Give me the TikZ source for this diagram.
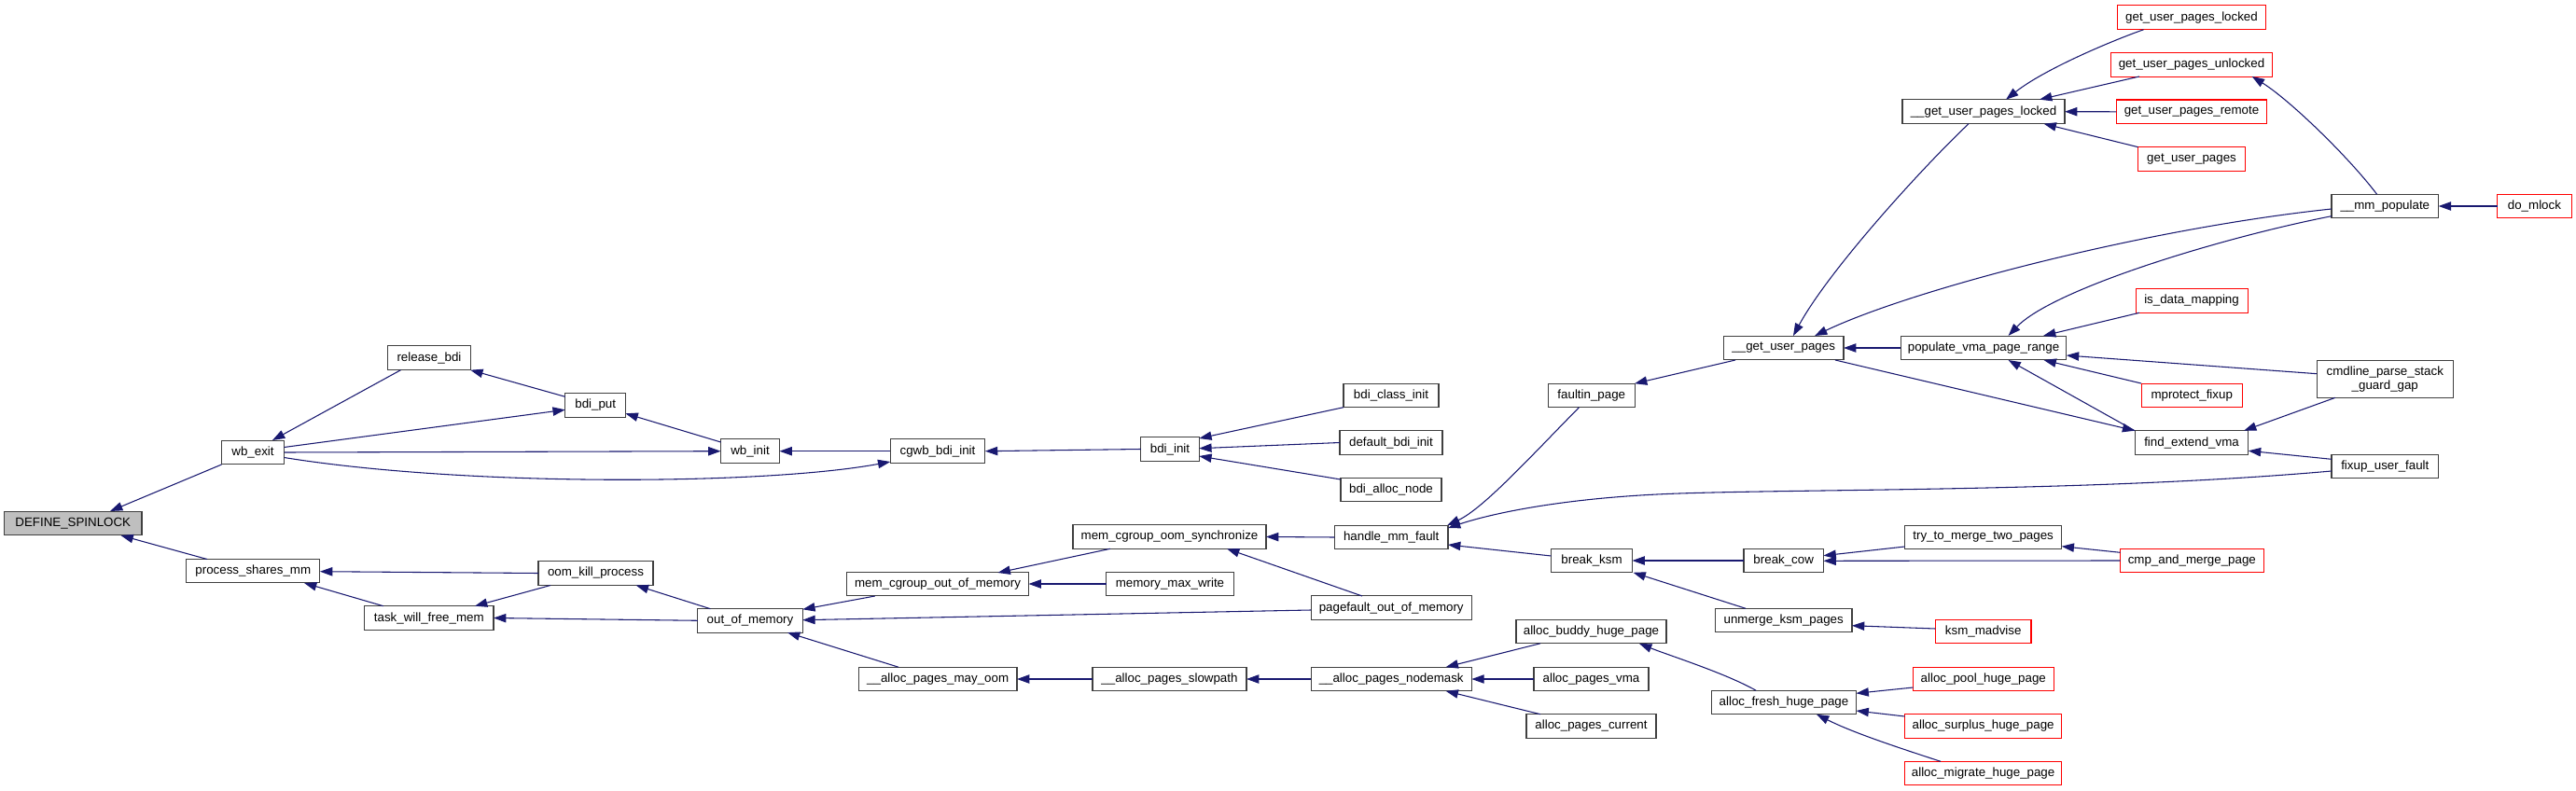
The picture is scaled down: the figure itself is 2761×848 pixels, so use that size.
\documentclass[tikz,border=0pt]{standalone}
\usepackage{fontspec}
\setmainfont{Liberation Sans}
\usetikzlibrary{arrows.meta}
\definecolor{edgec}{RGB}{25,25,112}
\definecolor{redc}{RGB}{255,0,0}
\definecolor{grayfill}{RGB}{191,191,191}
\definecolor{boxc}{RGB}{64,64,64}
\newcommand{\bx}[5][]{\node[box,#1,minimum width=#4*0.75pt] (#2) at (#3) {#5};}
\newcommand{\ed}[4]{\draw[edge] ([shift={(#2)}]#1.center) -- ([shift={(#4)}]#3.center);}
\begin{document}
\begin{tikzpicture}[x=0.75pt,y=-0.75pt,
  box/.style={draw=boxc, line width=0.8pt, fill=white, minimum height=19.2pt, inner sep=0pt, font=\fontsize{10}{11.5}\selectfont},
  rbox/.style={draw=redc},
  edge/.style={draw=edgec, line width=0.8pt, -{Triangle[length=10pt,width=7pt]}}]
\useasboundingbox (0,0) rectangle (2761,848);
% nodes
\bx[fill=grayfill]{DEF}{78.25,561}{147.5}{DEFINE\_SPINLOCK}
\bx{wbexit}{271,485}{67}{wb\_exit}
\bx{relbdi}{460,383.7}{88.4}{release\_bdi}
\bx{bdiput}{638.2,434.5}{64.7}{bdi\_put}
\bx{psm}{271.3,612}{143.3}{process\_shares\_mm}
\bx{twfm}{459.8,662.5}{138.4}{task\_will\_free\_mem}
\bx{oomkill}{638.5,614.5}{123}{oom\_kill\_process}
\bx{wbinit}{804,483.7}{63}{wb\_init}
\bx{cgwb}{1005,483.7}{101.8}{cgwb\_bdi\_init}
\bx{bdiinit}{1254,481.5}{62.5}{bdi\_init}
\bx{mcos}{1253.5,575.5}{207}{mem\_cgroup\_oom\_synchronize}
\bx{mcoom}{1005,626}{195}{mem\_cgroup\_out\_of\_memory}
\bx{mmw}{1254,626}{136.5}{memory\_max\_write}
\bx{oom}{804,665.3}{112.5}{out\_of\_memory}
\bx{apmo}{1005.2,728}{169.6}{\_\_alloc\_pages\_may\_oom}
\bx{aps}{1253.5,728}{165}{\_\_alloc\_pages\_slowpath}
\bx{bci}{1491,424}{102}{bdi\_class\_init}
\bx{dbi}{1491,474.5}{110}{default\_bdi\_init}
\bx{ban}{1491,525}{108}{bdi\_alloc\_node}
\bx{hmf}{1491.2,576}{121.6}{handle\_mm\_fault}
\bx{pfoom}{1491.2,651.7}{172.3}{pagefault\_out\_of\_memory}
\bx{apn}{1491.2,728}{172.3}{\_\_alloc\_pages\_nodemask}
\bx{faultin}{1705.8,424}{92.5}{faultin\_page}
\bx{bksm}{1706,601}{87}{break\_ksm}
\bx{abhp}{1705.5,677}{161}{alloc\_buddy\_huge\_page}
\bx{apv}{1705.5,728}{123}{alloc\_pages\_vma}
\bx{apc}{1705.5,778.5}{139}{alloc\_pages\_current}
\bx{gup}{1911.7,373}{128.6}{\_\_get\_user\_pages}
\bx{bcow}{1911.7,601}{85.5}{break\_cow}
\bx{ukp}{1911.7,665}{146.5}{unmerge\_ksm\_pages}
\bx{afhp}{1912,753}{155}{alloc\_fresh\_huge\_page}
\bx{gupl}{2126,119.7}{174}{\_\_get\_user\_pages\_locked}
\bx{pvpr}{2126,373}{177.6}{populate\_vma\_page\_range}
\bx{ttm}{2125.6,576}{168}{try\_to\_merge\_two\_pages}
\bx[rbox]{kmad}{2125.7,677}{102.6}{ksm\_madvise}
\bx[rbox]{aphp}{2125.8,728}{150.5}{alloc\_pool\_huge\_page}
\bx[rbox]{ashp}{2125.6,778.5}{168}{alloc\_surplus\_huge\_page}
\bx[rbox]{amhp}{2125.6,829}{168}{alloc\_migrate\_huge\_page}
\bx[rbox]{guplr}{2349,18.7}{159}{get\_user\_pages\_locked}
\bx[rbox]{gupu}{2349,69.3}{173.7}{get\_user\_pages\_unlocked}
\bx[rbox]{gupr}{2349,119.8}{161.4}{get\_user\_pages\_remote}
\bx[rbox]{gupp}{2349,170.5}{114.7}{get\_user\_pages}
\bx{mmpop}{2556.3,221}{114.7}{\_\_mm\_populate}
\bx[rbox]{domlock}{2716.4,221}{79.3}{do\_mlock}
\bx[rbox]{idm}{2349,322.5}{120}{is\_data\_mapping}
\bx[rbox]{mpf}{2349.2,424}{108.4}{mprotect\_fixup}
\bx[minimum height=30pt,align=center]{cpsgg}{2556.3,406.3}{146}{cmdline\_parse\_stack\\\_guard\_gap}
\bx{fev}{2349,474.5}{121.7}{find\_extend\_vma}
\bx{fuf}{2556.3,500}{114.7}{fixup\_user\_fault}
\bx[rbox]{cmp}{2349.3,601}{153.6}{cmp\_and\_merge\_page}
% edges
\ed{wbexit}{-33.5,13}{DEF}{39.75,-13}
\ed{psm}{-49.3,-12.5}{DEF}{51.25,13}
\ed{relbdi}{-30.5,13}{wbexit}{21,-13}
\ed{wbexit}{33.5,-5.5}{bdiput}{-32.4,4.8}
\ed{wbexit}{33.5,0}{wbinit}{-31.5,0}
\draw[edge] ([shift={(33.5,5.5)}]wbexit.center) .. controls (500,522) and (820,520) .. ([shift={(-50.7,11.3)}]cgwb.center);
\ed{bdiput}{-32.4,-9.2}{relbdi}{44.2,13}
\ed{wbinit}{-31.4,-9.7}{bdiput}{32.3,8.8}
\ed{cgwb}{-50.9,0}{wbinit}{31.5,0}
\ed{bdiinit}{-31.25,0}{cgwb}{50.9,0}
\ed{bci}{-51,12.7}{bdiinit}{31.25,-11.5}
\ed{dbi}{-55,0}{bdiinit}{31.25,-0.8}
\ed{ban}{-54,-11}{bdiinit}{31.25,7.5}
\ed{oomkill}{-61.5,0}{psm}{71.65,0.7}
\ed{twfm}{-49,-12.8}{psm}{54.7,13}
\ed{oomkill}{-48.5,13}{twfm}{49.2,-12.8}
\ed{oom}{-56.25,0}{twfm}{69.2,0}
\ed{oom}{-42.6,-12.6}{oomkill}{43.2,13}
\ed{mcoom}{-67.2,13}{oom}{56.25,-12}
\ed{pfoom}{-86.15,2.3}{oom}{56.25,-0.6}
\ed{apmo}{-42.2,-12.8}{oom}{40,12.8}
\ed{mcos}{-63.5,12.8}{mcoom}{64.5,-12}
\ed{mmw}{-68.25,0}{mcoom}{97.5,0}
\ed{hmf}{-60.8,0}{mcos}{103.5,0}
\ed{pfoom}{-31.2,-12.7}{mcos}{61.5,12.8}
\ed{aps}{-82.5,0}{apmo}{84.8,0}
\ed{apn}{-86.15,0}{aps}{82.5,0}
\ed{abhp}{-54.5,12.8}{apn}{58.4,-12.8}
\ed{apv}{-61.5,0}{apn}{86.15,0}
\ed{apc}{-54.5,-12.8}{apn}{58.4,12.8}
\draw[edge] ([shift={(-13.3,12.7)}]faultin.center) .. controls (1640,490) and (1590,545) .. ([shift={(60,-12.8)}]hmf.center);
\draw[edge] ([shift={(-57.3,5)}]fuf.center) .. controls (2250,527) and (1950,524) .. (1800,529) .. controls (1680,533) and (1600,550) .. ([shift={(60.8,-10)}]hmf.center);
\ed{bksm}{-43.5,-5}{hmf}{60.8,8}
\ed{bcow}{-42.75,0}{bksm}{43.5,0}
\ed{ukp}{-40.7,-12.7}{bksm}{44.5,12.8}
\ed{ttm}{-84,10}{bcow}{42.75,-5.3}
\ed{cmp}{-76.8,0}{bcow}{42.75,0.3}
\ed{cmp}{-76.8,-8.7}{ttm}{84,9.7}
\ed{kmad}{-51.3,-3}{ukp}{73.25,5.7}
\draw[edge] ([shift={(-30,-12.8)}]afhp.center) .. controls (1850,722) and (1790,703) .. ([shift={(51.5,13)}]abhp.center);
\ed{aphp}{-75.25,9}{afhp}{77.5,-9.7}
\ed{ashp}{-84,-10.5}{afhp}{77.5,9}
\draw[edge] ([shift={(-45.6,-12.7)}]amhp.center) .. controls (2030,800) and (1985,785) .. ([shift={(35,12.8)}]afhp.center);
\ed{gup}{-51.7,13}{faultin}{46.2,-12.8}
\draw[edge] ([shift={(-16,13)}]gupl.center) .. controls (2060,180) and (1960,290) .. ([shift={(10.3,-13)}]gup.center);
\draw[edge] ([shift={(-57.3,3)}]mmpop.center) .. controls (2300,245) and (2050,310) .. ([shift={(33.3,-13)}]gup.center);
\ed{pvpr}{-88.8,0}{gup}{64.3,0}
\ed{gup}{55.3,13}{fev}{-60.8,-12.8}
\draw[edge] ([shift={(-57.3,10.7)}]mmpop.center) .. controls (2380,255) and (2200,310) .. ([shift={(26.5,-13)}]pvpr.center);
\ed{idm}{-56,12.8}{pvpr}{64,-13}
\ed{cpsgg}{-73,-5.6}{pvpr}{88.8,8}
\ed{mpf}{-54.2,-13}{pvpr}{64.5,13}
\ed{fev}{-61,-12.8}{pvpr}{26.5,13}
\ed{cpsgg}{-53.3,20}{fev}{56,-12.8}
\ed{fuf}{-57.3,-7.7}{fev}{60.85,8.8}
\draw[edge] ([shift={(-51.4,13)}]guplr.center) .. controls (2260,45) and (2190,75) .. ([shift={(24,-13)}]gupl.center);
\ed{gupu}{-56,12.7}{gupl}{60,-13}
\ed{gupr}{-80.7,0}{gupl}{87,0}
\ed{gupp}{-57.3,-12.8}{gupl}{64.5,13}
\draw[edge] ([shift={(-8.7,-12.7)}]mmpop.center) .. controls (2517,168) and (2454,107) .. ([shift={(64.7,12.7)}]gupu.center);
\ed{domlock}{-39.65,0}{mmpop}{57.35,0}
\end{tikzpicture}
\end{document}
